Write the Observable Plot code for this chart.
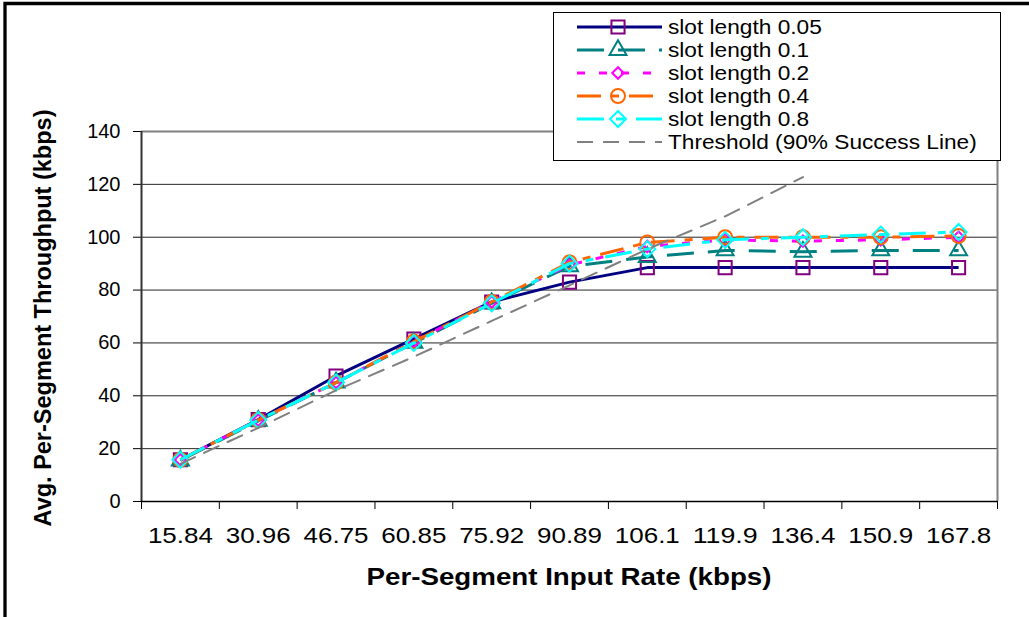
<!DOCTYPE html>
<html><head><meta charset="utf-8">
<script src="https://cdn.jsdelivr.net/npm/d3@7"></script>
<script src="https://cdn.jsdelivr.net/npm/@observablehq/plot@0.6"></script>
<style>body{margin:0;background:#fff} svg{display:block}</style>
</head><body><div id="chart"></div>
<script>
const categories = ["15.84","30.96","46.75","60.85","75.92","90.89","106.1","119.9","136.4","150.9","167.8"];
const slot005 = [15.8, 31, 47.5, 61.5, 75.5, 83, 88.5, 88.5, 88.5, 88.5, 88.5];
const slot01  = [15.5, 30.5, 45, 60, 75, 89, 92.5, 95, 94.5, 95, 95];
const slot02  = [15.8, 30.8, 45, 60.5, 75.5, 89.5, 96.5, 99, 98.5, 99, 100];
const slot04  = [15.8, 30.8, 45, 60.5, 75.5, 90.5, 98, 100, 100, 100, 100.5];
const slot08  = [15.8, 30.8, 45, 60, 75, 90, 95.5, 99, 100, 101, 102];
const threshold = [14.26, 27.86, 42.08, 54.77, 68.33, 81.80, 95.49, 107.91, 122.76];
const yTicks = [0, 20, 40, 60, 80, 100, 120, 140];
const seriesNames = ["slot length 0.05","slot length 0.1","slot length 0.2","slot length 0.4","slot length 0.8","Threshold (90% Success Line)"];
const xTitle = "Per-Segment Input Rate (kbps)";
const yTitle = "Avg. Per-Segment Throughput (kbps)";

const FONT = "Liberation Sans, Arial, sans-serif";
const styles = [
  {stroke:"#000080", dash:null, symbol:"square", r:7.4, mstroke:"#800080"},
  {stroke:"#008080", dash:"27,14", symbol:"triangle", r:6.3, mstroke:"#008080"},
  {stroke:"#FF00FF", dash:"8,14", symbol:"diamond2", r:5.2, mstroke:"#FF00FF"},
  {stroke:"#FF6600", dash:"24,10,8,10", symbol:"circle", r:7, mstroke:"#FF6600"},
  {stroke:"#00FFFF", dash:"27,12,8,12", symbol:"diamond2", r:7.2, mstroke:"#00FFFF"}
];
const thrStyle = {stroke:"#808080", dash:"16,10"};
const allValues = [slot005, slot01, slot02, slot04, slot08];
const series = allValues.map((vals, k) => ({
  name: seriesNames[k], ...styles[k],
  rows: vals.map((v, i) => ({i: i + 0.5, cat: categories[i], v}))
}));
const thrRows = threshold.map((v, i) => ({i: i + 0.5, cat: categories[i], v}));

const marks = [
  Plot.ruleY(yTicks.filter(t => t > 0 && t < 140), {stroke:"#000", strokeWidth:1, strokeOpacity:0.85}),
  Plot.ruleY([140], {stroke:"#808080", strokeWidth:2}),
  Plot.ruleX([categories.length], {stroke:"#808080", strokeWidth:2}),
  Plot.axisY({ticks: yTicks, tickSize: 8, tickPadding: 13, fontSize: 20, label: null}),
  Plot.axisX({ticks: d3.range(categories.length + 1), tickSize: 8, tickFormat: () => "", label: null}),
  Plot.axisX({ticks: categories.map((_, i) => i + 0.5), tickFormat: d => categories[Math.floor(d)], tickSize: 0, tickPadding: 26, fontSize: 21.5, label: null}),
  Plot.ruleX([0], {stroke:"#333", strokeWidth:2}),
  Plot.ruleY([0], {stroke:"#000", strokeWidth:1.5})
];
for (const s of series) {
  marks.push(Plot.line(s.rows, {x:"i", y:"v", curve:"linear", stroke:s.stroke, strokeWidth:3, strokeDasharray:s.dash, strokeLinecap:"butt", strokeLinejoin:"miter"}));
  marks.push(Plot.dot(s.rows, {x:"i", y:"v", symbol:s.symbol, r:s.r, stroke:s.mstroke, strokeWidth:2, fill:"none"}));
}
marks.push(Plot.line(thrRows, {x:"i", y:"v", curve:"linear", stroke:thrStyle.stroke, strokeWidth:2, strokeDasharray:thrStyle.dash}));

const W = 1029, H = 617;
const chart = Plot.plot({
  width: W, height: H,
  marginLeft: 141, marginRight: 32, marginTop: 131, marginBottom: 116,
  style: {fontFamily: FONT, color: "#000", background: "#fff", overflow: "visible"},
  x: {domain: [0, categories.length], label: null},
  y: {domain: [0, 140], label: null},
  marks
});
document.getElementById("chart").appendChild(chart);

const svg = d3.select(chart);
svg.selectAll("text").attr("font-family", FONT);
svg.selectAll('g[aria-label="x-axis tick label"] text').attr("textLength", 65).attr("lengthAdjust", "spacingAndGlyphs");

// axis titles
svg.append("text").attr("x", 569).attr("y", 585).attr("text-anchor", "middle").attr("font-family", FONT)
  .attr("font-weight", "bold").attr("font-size", 23).attr("textLength", 405).attr("lengthAdjust", "spacingAndGlyphs")
  .attr("fill", "#000").text(xTitle);
svg.append("text").attr("transform", "translate(51,318) rotate(-90)").attr("text-anchor", "middle").attr("font-family", FONT)
  .attr("font-weight", "bold").attr("font-size", 23.5).attr("fill", "#000").text(yTitle);

// outer frame
svg.append("path").attr("d", "M5,617V3.5H1029").attr("fill", "none").attr("stroke", "#000").attr("stroke-width", 3.3);

// legend
const lg = svg.append("g");
lg.append("rect").attr("x", 553.5).attr("y", 12.5).attr("width", 447).attr("height", 148)
  .attr("fill", "#fff").attr("stroke", "#000").attr("stroke-width", 1);
const symMap = {square: d3.symbolSquare, triangle: d3.symbolTriangle, diamond2: d3.symbolDiamond2, circle: d3.symbolCircle};
const legendItems = [...series, {name: seriesNames[5], ...thrStyle, thr: true}];
legendItems.forEach((s, k) => {
  const y = 27 + k * 23;
  lg.append("line").attr("x1", 577).attr("x2", 662).attr("y1", y).attr("y2", y)
    .attr("stroke", s.stroke).attr("stroke-width", s.thr ? 2 : 3).attr("stroke-dasharray", s.dash);
  if (!s.thr) {
    lg.append("path").attr("transform", `translate(618,${y})`)
      .attr("d", d3.symbol(symMap[s.symbol], s.r * s.r * Math.PI)())
      .attr("fill", "none").attr("stroke", s.mstroke).attr("stroke-width", 2);
  }
  lg.append("text").attr("transform", `translate(668,${y + 6.8}) scale(1.08,1)`)
    .attr("text-anchor", "start").attr("font-family", FONT)
    .attr("font-size", 21).attr("fill", "#000").text(s.name);
});
</script>
</body></html>
